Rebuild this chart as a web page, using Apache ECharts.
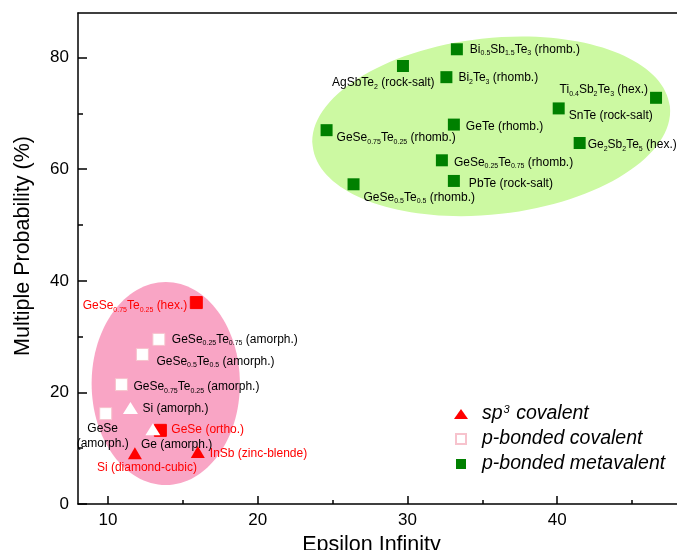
<!DOCTYPE html>
<html>
<head>
<meta charset="utf-8">
<title>Multiple probability vs. epsilon infinity</title>
<script src="https://cdn.jsdelivr.net/npm/echarts@6/dist/echarts.min.js"></script>
<style>
  html, body { margin: 0; padding: 0; background: #fff; }
  #chart { width: 677px; height: 550px; }
</style>
</head>
<body>
<div id="chart"></div>
<script>
// ---- data -------------------------------------------------------------
// "_x" marks a subscript in a compound name.

// p-bonded metavalent (crystalline chalcogenides)
const metavalentNames = [
  'Bi_0.5Sb_1.5Te_3 (rhomb.)', 'AgSbTe_2 (rock-salt)', 'Bi_2Te_3 (rhomb.)',
  'Ti_0.4Sb_2Te_3 (hex.)', 'SnTe (rock-salt)', 'GeTe (rhomb.)',
  'GeSe_0.75Te_0.25 (rhomb.)', 'Ge_2Sb_2Te_5 (hex.)', 'GeSe_0.25Te_0.75 (rhomb.)',
  'PbTe (rock-salt)', 'GeSe_0.5Te_0.5 (rhomb.)'
];
const metavalentEps = [33.3, 29.7, 32.6, 46.6, 40.1, 33.1, 24.6, 41.5, 32.3, 33.1, 26.4];
const metavalentMP  = [81.5, 78.5, 76.5, 72.8, 70.9, 68.0, 67.0, 64.7, 61.6, 57.9, 57.3];

// p-bonded covalent (crystalline ones filled, amorphous ones open)
const covalentNames = [
  'GeSe_0.75Te_0.25 (hex.)', 'GeSe_0.25Te_0.75 (amorph.)', 'GeSe_0.5Te_0.5 (amorph.)',
  'GeSe_0.75Te_0.25 (amorph.)', 'GeSe\n(amorph.)', 'GeSe (ortho.)'
];
const covalentEps = [15.9, 13.4, 12.3, 10.9, 9.85, 13.5];
const covalentMP  = [36.1, 29.5, 26.8, 21.4, 16.2, 13.2];

// sp3 covalent (crystalline)
const sp3Names = ['Si (diamond-cubic)', 'InSb (zinc-blende)'];
const sp3Eps   = [11.8, 16.0];
const sp3MP    = [9.1, 9.3];

// amorphous tetrahedral semiconductors
const amorphTetraNames = ['Si (amorph.)', 'Ge (amorph.)'];
const amorphTetraEps   = [11.5, 13.0];
const amorphTetraMP    = [17.2, 13.4];

// shaded regions: [centre eps, centre MP, half-width eps, half-height MP, tilt deg]
const metavalentRegion = [35.6, 67.7, 12.0, 15.8, 6.4];
const covalentRegion   = [13.86, 21.6, 4.95, 18.2, 0];

// axis ticks
const xTicks      = [10, 20, 30, 40];
const xMinorTicks = [15, 25, 35, 45];
const yTicks      = [0, 20, 40, 60, 80];
const yMinorTicks = [10, 30, 50, 70];

const legendNames = ['sp3 covalent', 'p-bonded covalent', 'p-bonded metavalent'];

// ---- styling ----------------------------------------------------------
const FONT = '"Liberation Sans", Arial, Helvetica, sans-serif';
const RED = '#ff0000';
const GREEN = '#008000';

// label placement around each marker: [align, dx, dy]
const labelPlacement = {
  'Bi_0.5Sb_1.5Te_3 (rhomb.)': ['left', 13, 0],
  'AgSbTe_2 (rock-salt)': ['left', -71, 17],
  'Bi_2Te_3 (rhomb.)': ['left', 12, 1],
  'Ti_0.4Sb_2Te_3 (hex.)': ['right', -8, -8],
  'SnTe (rock-salt)': ['left', 10, 7],
  'GeTe (rhomb.)': ['left', 12, 2],
  'GeSe_0.75Te_0.25 (rhomb.)': ['left', 10, 8],
  'Ge_2Sb_2Te_5 (hex.)': ['left', 8, 2],
  'GeSe_0.25Te_0.75 (rhomb.)': ['left', 12, 2],
  'PbTe (rock-salt)': ['left', 15, 3],
  'GeSe_0.5Te_0.5 (rhomb.)': ['left', 10, 13],
  'GeSe_0.75Te_0.25 (hex.)': ['right', -9, 3],
  'GeSe_0.25Te_0.75 (amorph.)': ['left', 13, 0],
  'GeSe_0.5Te_0.5 (amorph.)': ['left', 14, 7],
  'GeSe_0.75Te_0.25 (amorph.)': ['left', 12, 2],
  'GeSe\n(amorph.)': ['center', -3, 23],
  'GeSe (ortho.)': ['left', 11, -1],
  'Si (diamond-cubic)': ['center', 12, 14],
  'InSb (zinc-blende)': ['left', 12, 2],
  'Si (amorph.)': ['left', 12, 1],
  'Ge (amorph.)': ['left', -12, 15]
};

function richFor(color) {
  return {
    n: { fontFamily: FONT, fontSize: 12, lineHeight: 15, color: color },
    s: { fontFamily: FONT, fontSize: 7, height: 7, lineHeight: 15, verticalAlign: 'bottom', color: color }
  };
}

// "GeSe_0.75Te_0.25" -> rich text with subscript tokens
function richName(name) {
  return name.split('\n').map(function (line) {
    return line.split(/_([0-9.]+)/).map(function (part, i) {
      if (part === '') return '';
      return (i % 2 ? '{s|' : '{n|') + part + '}';
    }).join('');
  }).join('\n');
}

function makeItems(names, xs, ys, styleFor) {
  return names.map(function (name, i) {
    const st = styleFor(name);
    const pl = labelPlacement[name] || ['left', 10, 0];
    return {
      name: name,
      value: [xs[i], ys[i]],
      itemStyle: st.itemStyle,
      label: {
        show: true,
        position: 'inside',
        align: pl[0],
        verticalAlign: 'middle',
        offset: [pl[1], pl[2]],
        formatter: function (p) { return richName(p.name); },
        rich: richFor(st.textColor)
      }
    };
  });
}

const isAmorph = function (n) { return n.indexOf('amorph') >= 0; };

const metavalentData = makeItems(metavalentNames, metavalentEps, metavalentMP, function () {
  return { itemStyle: undefined, textColor: '#000' };
});
const covalentData = makeItems(covalentNames, covalentEps, covalentMP, function (n) {
  return isAmorph(n)
    ? { itemStyle: undefined, textColor: '#000' }
    : { itemStyle: { color: RED, borderColor: RED }, textColor: RED };
});
const sp3Data = makeItems(sp3Names, sp3Eps, sp3MP, function () {
  return { itemStyle: undefined, textColor: RED };
});
const amorphTetraData = makeItems(amorphTetraNames, amorphTetraEps, amorphTetraMP, function () {
  return { itemStyle: undefined, textColor: '#000' };
});

const regionColors = ['#ccf9a2', '#f9a5c5'];

const axisLineStyle = { color: '#000', width: 1.5 };
const xBase = { type: 'value', min: 8, max: 48, gridIndex: 0, splitLine: { show: false } };
const yBase = { type: 'value', min: 0, max: 88, gridIndex: 0, splitLine: { show: false } };

const chart = echarts.init(document.getElementById('chart'), null, { renderer: 'canvas' });

chart.setOption({
  backgroundColor: '#fff',
  animation: false,
  grid: { left: 78, right: 0, top: 13, bottom: 46, containLabel: false, outerBoundsMode: 'none' },
  xAxis: [
    Object.assign({}, xBase, {
      position: 'bottom',
      axisLine: { show: true, lineStyle: axisLineStyle },
      axisTick: { show: true, inside: true, length: 8, customValues: xTicks, lineStyle: axisLineStyle },
      axisLabel: { show: true, customValues: xTicks, margin: 8, color: '#000', fontSize: 17, fontFamily: FONT },
      name: 'Epsilon Infinity',
      nameLocation: 'middle',
      nameGap: 26,
      nameTextStyle: { color: '#000', fontSize: 21.5, fontFamily: FONT, padding: [0, 12, 0, 0] }
    }),
    Object.assign({}, xBase, {
      position: 'bottom',
      axisLine: { show: false },
      axisTick: { show: true, inside: true, length: 4, customValues: xMinorTicks, lineStyle: axisLineStyle },
      axisLabel: { show: false }
    }),
    Object.assign({}, xBase, {
      position: 'top',
      axisLine: { show: true, lineStyle: axisLineStyle },
      axisTick: { show: false },
      axisLabel: { show: false }
    })
  ],
  yAxis: [
    Object.assign({}, yBase, {
      position: 'left',
      axisLine: { show: true, lineStyle: axisLineStyle },
      axisTick: { show: true, inside: true, length: 9, customValues: yTicks, lineStyle: axisLineStyle },
      axisLabel: { show: true, customValues: yTicks, margin: 9, color: '#000', fontSize: 17, fontFamily: FONT },
      name: 'Multiple Probability (%)',
      nameLocation: 'middle',
      nameGap: 44,
      nameTextStyle: { color: '#000', fontSize: 21.5, fontFamily: FONT, padding: [0, 0, 0, 25] }
    }),
    Object.assign({}, yBase, {
      position: 'left',
      axisLine: { show: false },
      axisTick: { show: true, inside: true, length: 5, customValues: yMinorTicks, lineStyle: axisLineStyle },
      axisLabel: { show: false }
    })
  ],
  legend: {
    show: true,
    orient: 'vertical',
    left: 454,
    top: 404,
    padding: 0,
    itemGap: 5,
    itemWidth: 14,
    itemHeight: 10,
    symbolKeepAspect: true,
    selectedMode: false,
    data: [
      { name: 'sp3 covalent', icon: 'triangle' },
      { name: 'p-bonded covalent', icon: 'path://M0,0H10V10H0Z' },
      { name: 'p-bonded metavalent', icon: 'path://M0,0H10V10H0Z' }
    ],
    formatter: function (name) {
      if (name === legendNames[0]) return '{t|sp}{sup|3}{t| covalent}';
      return '{t|' + name + '}';
    },
    textStyle: {
      padding: [0, 0, 0, 9],
      fontFamily: FONT,
      fontSize: 19.5,
      fontStyle: 'italic',
      color: '#000',
      rich: {
        t: { fontFamily: FONT, fontSize: 19.5, fontStyle: 'italic', color: '#000' },
        sup: { fontFamily: FONT, fontSize: 11, fontStyle: 'italic', color: '#000', height: 12, verticalAlign: 'top', padding: [0, 1, 0, 1] }
      }
    }
  },
  series: [
    {
      type: 'custom',
      name: 'regions',
      xAxisIndex: 0,
      yAxisIndex: 0,
      silent: true,
      z: 1,
      data: [metavalentRegion, covalentRegion],
      encode: { x: 0, y: 1 },
      renderItem: function (params, api) {
        const c = api.coord([api.value(0), api.value(1)]);
        const s = api.size([api.value(2), api.value(3)]);
        return {
          type: 'ellipse',
          x: c[0],
          y: c[1],
          rotation: api.value(4) * Math.PI / 180,
          shape: { cx: 0, cy: 0, rx: s[0], ry: s[1] },
          style: { fill: regionColors[params.dataIndex], stroke: null }
        };
      }
    },
    {
      type: 'scatter',
      name: 'p-bonded metavalent',
      xAxisIndex: 0, yAxisIndex: 0, z: 3,
      symbol: 'rect',
      symbolSize: 12,
      itemStyle: { color: GREEN, opacity: 1 },
      data: metavalentData
    },
    {
      type: 'scatter',
      name: 'p-bonded covalent',
      xAxisIndex: 0, yAxisIndex: 0, z: 3,
      symbol: 'rect',
      symbolSize: 12,
      itemStyle: { color: '#ffffff', borderColor: '#f7c3cd', borderWidth: 1, opacity: 1 },
      data: covalentData
    },
    {
      type: 'scatter',
      name: 'sp3 covalent',
      xAxisIndex: 0, yAxisIndex: 0, z: 4,
      symbol: 'triangle',
      symbolSize: [14, 12],
      itemStyle: { color: RED, opacity: 1 },
      data: sp3Data
    },
    {
      type: 'scatter',
      name: 'amorphous tetrahedral',
      xAxisIndex: 0, yAxisIndex: 0, z: 4,
      symbol: 'triangle',
      symbolSize: [15, 12],
      itemStyle: { color: '#ffffff', opacity: 1 },
      data: amorphTetraData
    }
  ]
});
</script>
</body>
</html>
